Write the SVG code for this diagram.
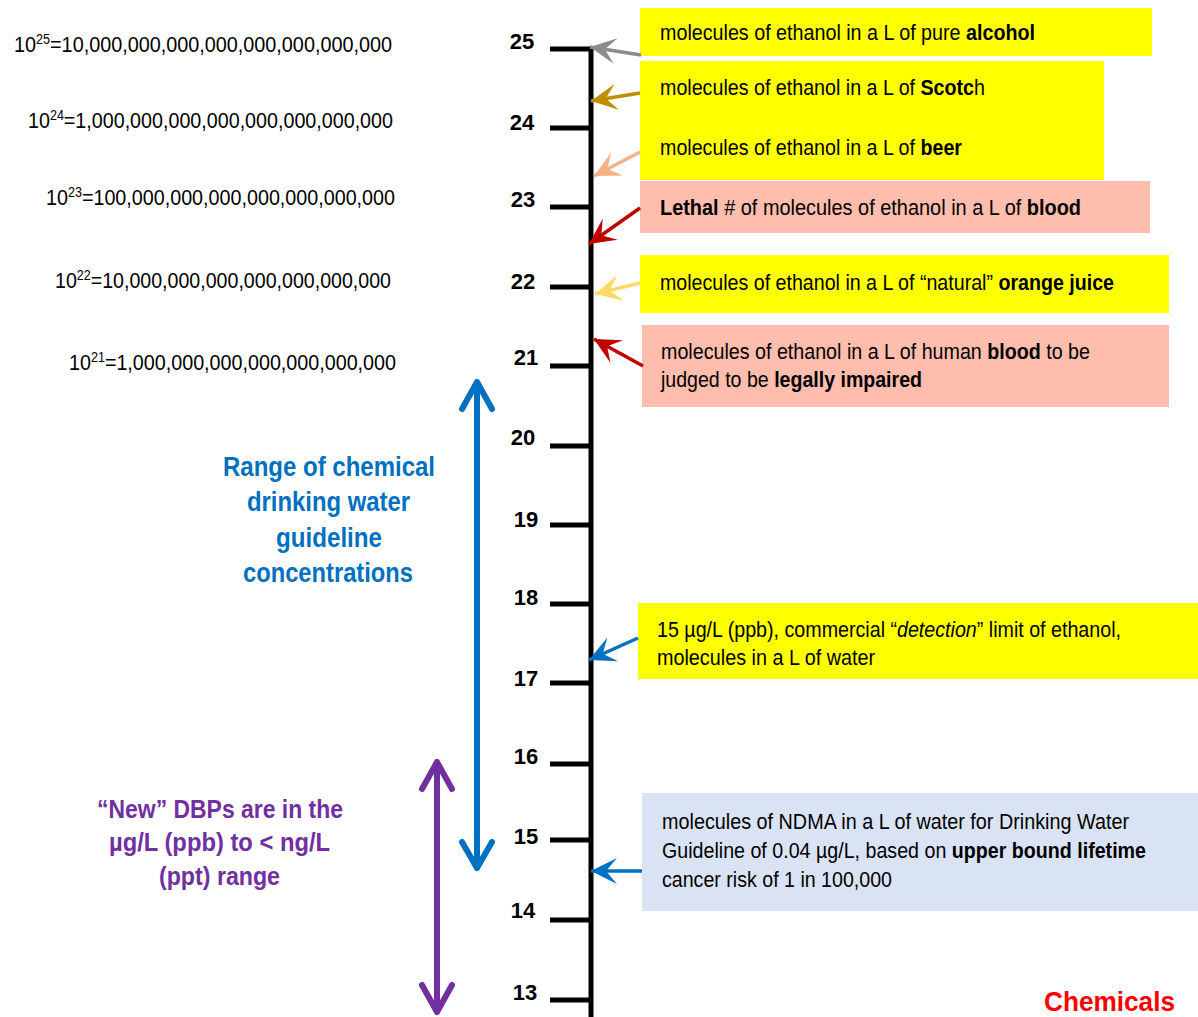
<svg xmlns="http://www.w3.org/2000/svg" width="1198" height="1017" viewBox="0 0 1198 1017">
<defs>
<style>
.t{font-family:"Liberation Sans",Arial,sans-serif;font-size:22px;fill:#000}
.b{font-weight:bold}
.num{font-family:"Liberation Sans",Arial,sans-serif;font-size:22px;font-weight:bold;fill:#000;text-anchor:middle}
.big{font-family:"Liberation Sans",Arial,sans-serif;font-size:22px;fill:#000}
.sup{font-size:14px}
.tick{stroke:#000;stroke-width:5;fill:none}
.conn{stroke-width:3.5;fill:none}
.dbl{stroke-width:6;fill:none;stroke-linecap:round;stroke-linejoin:round}
</style>
<marker id="mGray" markerUnits="userSpaceOnUse" markerWidth="30" markerHeight="30" refX="26" refY="14" orient="auto" viewBox="0 0 30 30"><path d="M26,14 L0,1 L11,14 L0,27 Z" fill="#8C8C8C"/></marker>
<marker id="mGold" markerUnits="userSpaceOnUse" markerWidth="30" markerHeight="30" refX="26" refY="14" orient="auto" viewBox="0 0 30 30"><path d="M26,14 L0,1 L11,14 L0,27 Z" fill="#BF8F00"/></marker>
<marker id="mSalmon" markerUnits="userSpaceOnUse" markerWidth="30" markerHeight="30" refX="26" refY="14" orient="auto" viewBox="0 0 30 30"><path d="M26,14 L0,1 L11,14 L0,27 Z" fill="#F4B183"/></marker>
<marker id="mRed" markerUnits="userSpaceOnUse" markerWidth="30" markerHeight="30" refX="26" refY="14" orient="auto" viewBox="0 0 30 30"><path d="M26,14 L0,1 L11,14 L0,27 Z" fill="#C00000"/></marker>
<marker id="mOrange" markerUnits="userSpaceOnUse" markerWidth="30" markerHeight="30" refX="26" refY="14" orient="auto" viewBox="0 0 30 30"><path d="M26,14 L0,1 L11,14 L0,27 Z" fill="#FFD966"/></marker>
<marker id="mBlue" markerUnits="userSpaceOnUse" markerWidth="30" markerHeight="30" refX="26" refY="14" orient="auto" viewBox="0 0 30 30"><path d="M26,14 L0,1 L11,14 L0,27 Z" fill="#0070C0"/></marker>
</defs>
<rect width="1198" height="1017" fill="#fff"/>

<g id="powers">
<text class="big" x="14" y="52" textLength="378" lengthAdjust="spacingAndGlyphs">10<tspan class="sup" dy="-8">25</tspan><tspan dy="8">=10,000,000,000,000,000,000,000,000</tspan></text>
<text class="big" x="28" y="128" textLength="365" lengthAdjust="spacingAndGlyphs">10<tspan class="sup" dy="-8">24</tspan><tspan dy="8">=1,000,000,000,000,000,000,000,000</tspan></text>
<text class="big" x="46" y="205" textLength="349" lengthAdjust="spacingAndGlyphs">10<tspan class="sup" dy="-8">23</tspan><tspan dy="8">=100,000,000,000,000,000,000,000</tspan></text>
<text class="big" x="55" y="288" textLength="336" lengthAdjust="spacingAndGlyphs">10<tspan class="sup" dy="-8">22</tspan><tspan dy="8">=10,000,000,000,000,000,000,000</tspan></text>
<text class="big" x="69" y="370" textLength="327" lengthAdjust="spacingAndGlyphs">10<tspan class="sup" dy="-8">21</tspan><tspan dy="8">=1,000,000,000,000,000,000,000</tspan></text>
</g>

<g id="axis">
<path class="tick" d="M591,47 V1017"/>
<path class="tick" d="M550,49 H593 M550,128 H591 M550,207 H591 M550,287 H591 M550,366 H591 M550,446 H591 M550,525 H591 M550,604 H591 M550,683 H591 M550,764 H591 M550,840 H591 M550,920 H591 M550,1000 H591"/>
<text class="num" x="522" y="49">25</text>
<text class="num" x="522" y="130">24</text>
<text class="num" x="523" y="207">23</text>
<text class="num" x="523" y="289">22</text>
<text class="num" x="526" y="365">21</text>
<text class="num" x="523" y="445">20</text>
<text class="num" x="526" y="527">19</text>
<text class="num" x="526" y="605">18</text>
<text class="num" x="526" y="686">17</text>
<text class="num" x="526" y="764">16</text>
<text class="num" x="526" y="844">15</text>
<text class="num" x="523" y="918">14</text>
<text class="num" x="525" y="1000">13</text>
</g>

<g id="box-alcohol">
<rect x="640" y="8" width="512" height="48" fill="#FFFF00"/>
<text class="t" x="660" y="40" textLength="375" lengthAdjust="spacingAndGlyphs">molecules of ethanol in a L of pure <tspan class="b">alcohol</tspan></text>
</g>
<g id="box-scotch-beer">
<rect x="640" y="61" width="464" height="119" fill="#FFFF00"/>
<text class="t" x="660" y="95" textLength="325" lengthAdjust="spacingAndGlyphs">molecules of ethanol in a L of <tspan class="b">Scotc</tspan>h</text>
<text class="t" x="660" y="155" textLength="302" lengthAdjust="spacingAndGlyphs">molecules of ethanol in a L of <tspan class="b">beer</tspan></text>
</g>
<g id="box-lethal">
<rect x="640" y="181" width="510" height="52" fill="#FFBDAD"/>
<text class="t" x="660" y="215" textLength="421" lengthAdjust="spacingAndGlyphs"><tspan class="b">Lethal</tspan> # of molecules of ethanol in a L of  <tspan class="b">blood</tspan></text>
</g>
<g id="box-orange">
<rect x="640" y="255" width="529" height="58" fill="#FFFF00"/>
<text class="t" x="660" y="290" textLength="454" lengthAdjust="spacingAndGlyphs">molecules of ethanol in a L of “natural” <tspan class="b">orange juice</tspan></text>
</g>
<g id="box-impaired">
<rect x="642" y="325" width="527" height="82" fill="#FFBDAD"/>
<text class="t" x="661" y="359" textLength="429" lengthAdjust="spacingAndGlyphs">molecules of ethanol in a L of human <tspan class="b">blood</tspan> to be</text>
<text class="t" x="661" y="387" textLength="261" lengthAdjust="spacingAndGlyphs">judged to be <tspan class="b">legally impaired</tspan></text>
</g>
<g id="box-detection">
<rect x="638" y="603" width="560" height="76" fill="#FFFF00"/>
<text class="t" x="657" y="637" textLength="464" lengthAdjust="spacingAndGlyphs">15 µg/L (ppb), commercial “<tspan font-style="italic">detection</tspan>” limit of ethanol,</text>
<text class="t" x="657" y="665" textLength="218" lengthAdjust="spacingAndGlyphs">molecules in  a L of water</text>
</g>
<g id="box-ndma">
<rect x="642" y="793" width="556" height="118" fill="#DAE3F3"/>
<text class="t" x="662" y="829" textLength="467" lengthAdjust="spacingAndGlyphs">molecules of NDMA in a L of water for Drinking Water</text>
<text class="t" x="662" y="858" textLength="484" lengthAdjust="spacingAndGlyphs">Guideline of 0.04 µg/L, based on <tspan class="b">upper bound lifetime</tspan></text>
<text class="t" x="662" y="887" textLength="230" lengthAdjust="spacingAndGlyphs">cancer risk of 1 in 100,000</text>
</g>

<g id="label-range" font-family="'Liberation Sans',Arial,sans-serif" font-size="27" font-weight="bold" fill="#0070C0">
<text x="223" y="476" textLength="212" lengthAdjust="spacingAndGlyphs">Range of chemical</text>
<text x="247" y="511" textLength="163" lengthAdjust="spacingAndGlyphs">drinking water</text>
<text x="276" y="547" textLength="106" lengthAdjust="spacingAndGlyphs">guideline</text>
<text x="243" y="582" textLength="170" lengthAdjust="spacingAndGlyphs">concentrations</text>
</g>
<g id="label-dbps" font-family="'Liberation Sans',Arial,sans-serif" font-size="26" font-weight="bold" fill="#7030A0">
<text x="97" y="818" textLength="246" lengthAdjust="spacingAndGlyphs">“New” DBPs are in the</text>
<text x="109" y="851" textLength="221" lengthAdjust="spacingAndGlyphs">µg/L (ppb) to  &lt; ng/L</text>
<text x="159" y="885" textLength="121" lengthAdjust="spacingAndGlyphs">(ppt) range</text>
</g>
<g id="label-chemicals">
<text x="1044" y="1011" font-family="'Liberation Sans',Arial,sans-serif" font-size="27" font-weight="bold" fill="#FF0000" textLength="131" lengthAdjust="spacingAndGlyphs">Chemicals</text>
</g>

<g id="connectors">
<line class="conn" x1="641" y1="55" x2="590" y2="47" stroke="#8C8C8C" marker-end="url(#mGray)"/>
<line class="conn" x1="640" y1="93" x2="591" y2="101" stroke="#BF8F00" marker-end="url(#mGold)"/>
<line class="conn" x1="640" y1="152" x2="594" y2="176" stroke="#F4B183" marker-end="url(#mSalmon)"/>
<line class="conn" x1="640" y1="208" x2="589" y2="244" stroke="#C00000" marker-end="url(#mRed)"/>
<line class="conn" x1="640" y1="283" x2="595" y2="294" stroke="#FFD966" marker-end="url(#mOrange)"/>
<line class="conn" x1="643" y1="366" x2="594" y2="339" stroke="#C00000" marker-end="url(#mRed)"/>
<line class="conn" x1="638" y1="638" x2="589" y2="660" stroke="#0070C0" marker-end="url(#mBlue)"/>
<line class="conn" x1="642" y1="871" x2="591" y2="871" stroke="#0070C0" marker-end="url(#mBlue)"/>
<path class="dbl" stroke="#0070C0" d="M477,382 V868 M462,409 L477,382 L492,409 M462,842 L477,868 L492,842"/>
<path class="dbl" stroke="#7030A0" d="M437,762 V1012 M422,789 L437,762 L452,789 M422,985 L437,1012 L452,985"/>
</g>
</svg>
